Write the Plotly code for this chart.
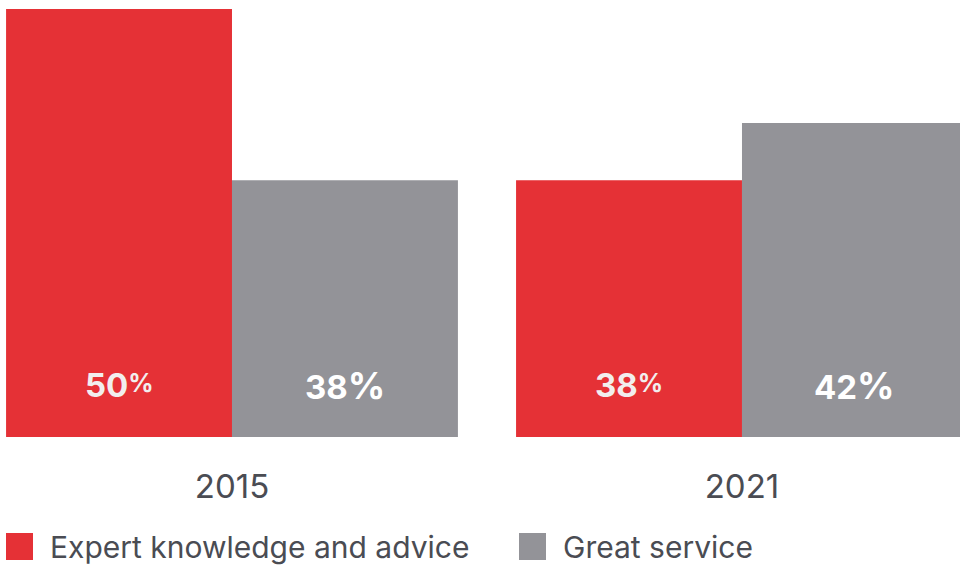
import plotly.graph_objects as go

years = ["2015", "2021"]
series_names = ["Expert knowledge and advice", "Great service"]
expert_values = [50, 38]
service_values = [38, 42]
expert_labels = ["50", "38"]
service_labels = ["38", "42"]

RED = "#e53136"
GRAY = "#939398"
TEXT = "#4a4c53"
FONT = "Inter"

BARGAP = 0.114
Y_MIN, Y_MAX = 20, 50.63

fig = go.Figure()
fig.add_trace(go.Bar(x=years, y=expert_values, name=series_names[0],
                     marker=dict(color=RED, line=dict(width=0)), hoverinfo="skip"))
fig.add_trace(go.Bar(x=years, y=service_values, name=series_names[1],
                     marker=dict(color=GRAY, line=dict(width=0)), hoverinfo="skip"))

half = (1 - BARGAP) / 4
annotations = []
for i, (lab_e, lab_s) in enumerate(zip(expert_labels, service_labels)):
    annotations.append(dict(
        x=i - half, y=Y_MIN, xref="x", yref="y", yshift=52,
        text=lab_e + "<span style='font-size:25px;baseline-shift:5px'>%</span>",
        showarrow=False, yanchor="middle", xanchor="center",
        font=dict(family=FONT, size=33, color="#f2eeee", weight=700)))
    annotations.append(dict(
        x=i + half, y=Y_MIN, xref="x", yref="y", yshift=52,
        text=lab_s + "<span style='font-size:37px'>%</span>",
        showarrow=False, yanchor="middle", xanchor="center",
        font=dict(family=FONT, size=33, color="#ffffff", weight=700)))

# manual legend
PH = 437.0
def py(px):
    return (PH - px) / PH

legend_items = [(series_names[0], RED, 6), (series_names[1], GRAY, 519)]
shapes = []
for name, col, x0 in legend_items:
    shapes.append(dict(type="rect", xref="paper", yref="paper",
                       x0=x0 / 960, x1=(x0 + 27) / 960, y0=py(560), y1=py(533),
                       fillcolor=col, line=dict(width=0)))
    annotations.append(dict(x=(x0 + 42) / 960, y=py(547), xref="paper", yref="paper",
                            text=name, showarrow=False, xanchor="left", yanchor="middle",
                            font=dict(family=FONT, size=30, color=TEXT)))

fig.update_layout(
    width=960, height=566,
    margin=dict(l=0, r=0, t=0, b=129),
    paper_bgcolor="white", plot_bgcolor="white",
    barmode="group", bargap=BARGAP, bargroupgap=0,
    showlegend=False,
    xaxis=dict(type="category", range=[-0.4549, 1.4275], showgrid=False, zeroline=False,
               showline=False, ticks="outside", ticklen=20, tickcolor="rgba(0,0,0,0)",
               tickfont=dict(family=FONT, size=33, color=TEXT)),
    yaxis=dict(range=[Y_MIN, Y_MAX], visible=False, showgrid=False, zeroline=False),
    annotations=annotations, shapes=shapes,
)

fig.write_html("out.html")
